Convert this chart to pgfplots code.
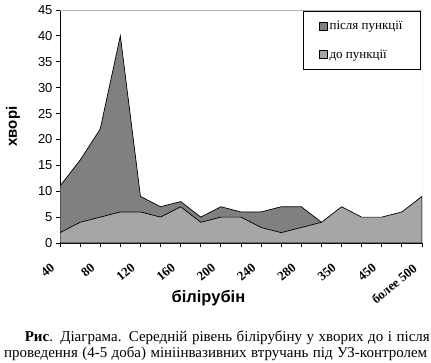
\documentclass[border=0pt]{standalone}
\usepackage{pgfplots}
\pgfplotsset{compat=1.18}
\usepackage{fontspec}
\setmainfont{Liberation Serif}
\newfontfamily\arial{Liberation Sans}
\definecolor{darkA}{RGB}{128,128,128}
\definecolor{lightA}{RGB}{166,166,166}
\begin{document}
\begin{tikzpicture}
\useasboundingbox (0,0) rectangle (431pt,362pt);
\begin{axis}[
  at={(60pt,119pt)}, anchor=south west,
  scale only axis, width=362pt, height=233pt,
  xmin=0, xmax=18, ymin=0, ymax=45,
  axis x line*=bottom, axis y line*=left,
  axis line style={black, line width=0.8pt},
  tick align=outside, major tick length=4pt, minor tick length=4pt,
  tick style={black, line width=0.8pt},
  xtick={0,2,...,18},
  minor xtick={1,3,...,17},
  xticklabels={40,80,120,160,200,240,280,350,450,более 500},
  ytick={0,5,...,45},
  /pgf/number format/assume math mode=true,
  yticklabel style={font=\arial\fontsize{13}{15}\selectfont},
  xticklabel style={font=\bfseries\fontsize{13}{15}\selectfont, xshift=-10pt, yshift=-14pt, rotate=40, anchor=north east, inner sep=1pt},
  xlabel={\arial\bfseries білірубін},
  xlabel style={font=\fontsize{16.5}{18}\selectfont, at={(axis description cs:0.41,0)}, anchor=center, yshift=-55pt},
  ylabel={\arial\bfseries хворі},
  ylabel style={font=\fontsize{15}{17}\selectfont, at={(axis description cs:-0.13,0.5)}, anchor=center, rotate=0},
  legend style={at={(0.997,0.996)}, anchor=north east, draw=black, line width=0.8pt,
    font=\fontsize{13}{15}\selectfont, row sep=14pt, inner xsep=16pt, inner ysep=8pt},
  legend cell align=left,
  legend image code/.code={\draw[#1, draw=black, line width=0.5pt] (0pt,-4pt) rectangle (8pt,4pt);},
]
\draw[gray!60, line width=0.8pt] (rel axis cs:0,1) -- (rel axis cs:1,1) -- (rel axis cs:1,0);
\addplot[fill=darkA, draw=black, line width=0.7pt] coordinates {
(0,11) (1,16) (2,22) (3,40) (4,9) (5,7) (6,8) (7,5) (8,7) (9,6) (10,6) (11,7) (12,7) (13,4)
} \closedcycle;
\addlegendentry{після пункції}
\addplot[fill=lightA, draw=black, line width=0.7pt] coordinates {
(0,2) (1,4) (2,5) (3,6) (4,6) (5,5) (6,7) (7,4) (8,5) (9,5) (10,3) (11,2) (12,3) (13,4) (14,7) (15,5) (16,5) (17,6) (18,9)
} \closedcycle;
\addlegendentry{до пункції}
\end{axis}
\node[anchor=base east, inner sep=0pt, font=\fontsize{15}{17}\selectfont] at (430pt,21pt) {\makebox[405pt][s]{\textbf{Рис}. Діаграма. Середній рівень білірубіну у хворих до і після}};
\node[anchor=base west, inner sep=0pt, font=\fontsize{15}{17}\selectfont] at (4pt,5pt) {\makebox[423pt][s]{проведення (4-5 доба) мініінвазивних втручань під УЗ-контролем}};
\end{tikzpicture}
\end{document}
